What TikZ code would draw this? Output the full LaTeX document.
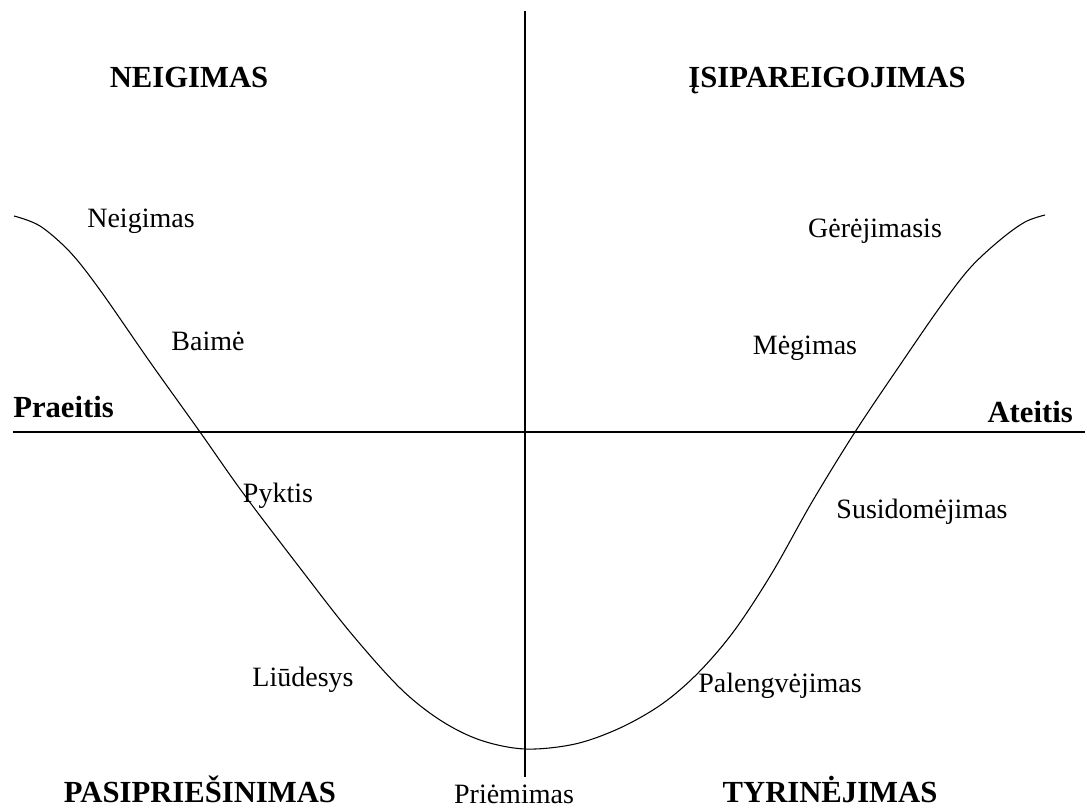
\documentclass[tikz,border=0pt]{standalone}
\usepackage{fontspec}
\setmainfont{Liberation Serif}
\begin{document}
\begin{tikzpicture}[x=0.75pt,y=-0.75pt,
  axis/.style={line width=0.9pt},
  wave/.style={line width=0.8pt},
  head/.style={font=\fontsize{23}{27}\selectfont\bfseries, inner sep=0pt, anchor=base},
  lbl/.style={font=\fontsize{21}{25}\selectfont, inner sep=0pt, anchor=base}]
\useasboundingbox (0,0) rectangle (1087,809);
\fill[white] (0,0) rectangle (1087,809);
% axes
\coordinate (hl) at (13,432);
\coordinate (hr) at (1085,432);
\coordinate (vt) at (525,11);
\coordinate (vb) at (525,777);
\draw[axis] (hl) -- (hr);
\draw[axis] (vt) -- (vb);
% curve
\draw[wave] plot[smooth, tension=0.55] coordinates {
 (14,216) (40,226) (70,252) (100,290) (150,362) (200,432) (243,493) (300,568)
 (350,632) (400,688) (440,720) (480,740) (525,749) (575,744) (620,728)
 (662,704) (698,673) (734,631) (772,573) (812,502) (855,432) (900,365)
 (940,307) (970,268) (1000,240) (1025,222) (1045,215)};
% headings
\node[head] (neg) at (189,88) {NEIGIMAS};
\node[head] (isi) at (827,88) {ĮSIPAREIGOJIMAS};
\node[head] (pas) at (200,802) {PASIPRIEŠINIMAS};
\node[head] (tyr) at (830,802) {TYRINĖJIMAS};
\node[head, anchor=base west] (pra) at (13,417) {Praeitis};
\node[head, anchor=base east] (ate) at (1073,422) {Ateitis};
% stage labels
\node[lbl] (n1) at (141,228) {Neigimas};
\node[lbl] (n2) at (208,350) {Baimė};
\node[lbl] (n3) at (278,502) {Pyktis};
\node[lbl] (n4) at (303,686) {Liūdesys};
\node[lbl] (n5) at (514,803) {Priėmimas};
\node[lbl] (n6) at (780,692) {Palengvėjimas};
\node[lbl] (n7) at (922,518) {Susidomėjimas};
\node[lbl] (n8) at (805,354) {Mėgimas};
\node[lbl] (n9) at (875,238) {Gėrėjimasis};
\end{tikzpicture}
\end{document}
